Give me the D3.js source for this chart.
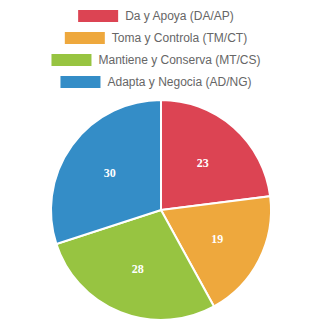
<!DOCTYPE html>
<meta charset="utf-8">
<script src="https://cdn.jsdelivr.net/npm/d3@7"></script>
<style>
body { margin: 0; background: #fff; }
.legend text { font: 12px "Liberation Sans", Arial, sans-serif; fill: #666; }
.slice-label { font: bold 12px "Liberation Serif", "Times New Roman", serif; fill: #fff; }
</style>
<body>
<script>

var categories = ["Da y Apoya (DA/AP)", "Toma y Controla (TM/CT)", "Mantiene y Conserva (MT/CS)", "Adapta y Negocia (AD/NG)"];
var values = [23, 19, 28, 30];
var colors = ["#dc4453", "#eea83d", "#97c441", "#348dc7"];

var width = 322,
    height = 322;

var svg = d3.select("body").append("svg")
    .attr("width", width)
    .attr("height", height);

// legend, one row per item, each centred
var legend = svg.append("g").attr("class", "legend");
categories.forEach(function(c, i) {
  var g = legend.append("g");
  var y = 10 + i * 22;
  var t = g.append("text")
      .attr("y", y + 6)
      .attr("dy", "0.35em")
      .text(c);
  var tw = t.node().getComputedTextLength();
  var total = 40 + 7 + tw;
  var x0 = 156 - total / 2;
  g.append("rect")
      .attr("x", x0)
      .attr("y", y)
      .attr("width", 40)
      .attr("height", 12)
      .attr("fill", colors[i]);
  t.attr("x", x0 + 47);
});

var cx = 161, cy = 210, r = 110;

var pie = d3.pie().sort(null).value(function(d) { return d; });
var arc = d3.arc().innerRadius(0).outerRadius(r);
var labelArc = d3.arc().innerRadius(r * 0.575).outerRadius(r * 0.575);

var g = svg.append("g").attr("transform", "translate(" + cx + "," + cy + ")");

var arcs = pie(values);

g.selectAll("path")
    .data(arcs)
    .enter().append("path")
    .attr("d", arc)
    .attr("fill", function(d, i) { return colors[i]; })
    .attr("stroke", "#fff")
    .attr("stroke-width", 2);

g.selectAll("text")
    .data(arcs)
    .enter().append("text")
    .attr("class", "slice-label")
    .attr("transform", function(d) { return "translate(" + labelArc.centroid(d) + ")"; })
    .attr("text-anchor", "middle")
    .attr("dy", "0.35em")
    .text(function(d) { return d.data; });

</script>
</body>
